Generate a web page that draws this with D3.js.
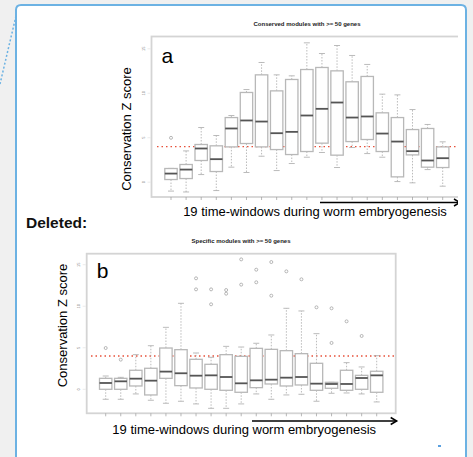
<!DOCTYPE html>
<html>
<head>
<meta charset="utf-8">
<script src="https://cdn.jsdelivr.net/npm/d3@7"></script>
<style>
  body { margin: 0; background: #f0f0f0; }
  svg { display: block; }
  text { font-family: "Liberation Sans", Arial, sans-serif; }
</style>
</head>
<body>
<svg id="chart" width="473" height="457"></svg>
<script>
// 19 time windows
var windows = [1, 2, 3, 4, 5, 6, 7, 8, 9, 10, 11, 12, 13, 14, 15, 16, 17, 18, 19];
var yTicks = [0, 5, 10, 15];
var threshold = 4;

// panel a: conserved modules
var consLow  = [-1.0, -1.1, 0.86, -0.94, 1.69, 1.09, 2.92, 1.31, 2.10, 2.81, 3.34, 1.65, 3.90, 3.22, 2.81, 0.07, -0.07, 1.42, -0.45];
var consQ1   = [0.30, 0.41, 2.44, 1.20, 3.97, 4.35, 3.97, 3.67, 3.11, 3.45, 4.39, 3.04, 4.57, 4.80, 3.45, 0.60, 3.07, 1.69, 1.65];
var consMed  = [0.97, 1.42, 3.79, 2.59, 6.04, 6.94, 6.82, 5.51, 5.66, 7.50, 8.25, 8.96, 7.27, 7.39, 5.47, 4.57, 3.49, 2.44, 2.70];
var consQ3   = [1.54, 1.99, 4.24, 4.09, 7.27, 10.09, 12.07, 10.27, 11.55, 12.67, 12.90, 12.52, 11.29, 11.89, 7.80, 7.27, 5.92, 6.04, 3.97];
var consHigh = [1.55, 3.52, 6.15, 5.25, 7.50, 10.42, 13.46, 12.07, 11.96, 15.67, 14.47, 15.37, 14.25, 13.24, 9.90, 9.82, 8.17, 6.49, 4.54];
var consOutWin = [1];
var consOutVal = [4.99];

// panel b: specific modules
var specLow  = [-1.2, -1.2, -0.56, -1.32, -1.68, -1.44, -1.76, -2.29, -2.29, -1.76, -0.56, -1.2, -0.68, -0.6, -1.44, -0.48, -0.44, -0.56, -1.52];
var specQ1   = [0.0, 0.0, 0.4, -0.68, 1.32, 0.44, 0.16, 0.0, -0.12, -0.36, 0.2, 0.64, 0.4, 0.52, -0.12, 0.12, -0.12, 0.0, -0.36];
var specMed  = [0.76, 0.96, 1.28, 1.04, 2.13, 1.93, 1.64, 1.68, 1.48, 0.72, 1.08, 1.16, 1.40, 1.48, 0.68, 0.64, 0.64, 1.36, 1.68];
var specQ3   = [1.32, 1.32, 2.29, 2.53, 4.97, 4.77, 3.61, 3.01, 4.17, 3.97, 4.93, 4.81, 4.65, 4.29, 3.13, 0.84, 2.29, 1.68, 2.17];
var specHigh = [1.6, 1.44, 4.17, 5.25, 7.46, 10.35, 4.37, 3.85, 5.17, 5.09, 5.54, 6.54, 9.75, 9.43, 6.7, 0.84, 3.21, 2.69, 4.05];
var specOutWin = [1, 2, 7, 7, 8, 8, 9, 9, 10, 10, 11, 11, 12, 12, 13, 14, 15, 16, 16, 17, 18];
var specOutVal = [4.97, 3.57, 13.36, 12.03, 12.03, 10.23, 11.95, 11.51, 15.64, 12.6, 14.4, 12.88, 15.32, 11.27, 14.2, 13.24, 9.87, 9.75, 5.58, 8.18, 6.42];

var xLabel = "19 time-windows during worm embryogenesis";
var yLabel = "Conservation Z score";

var svg = d3.select("#chart");

// document page behind the figure
svg.append("path")
  .attr("d", "M16,460 V10 Q16,5 21,5 H461 Q466,5 466,10 V460")
  .attr("fill", "#fff")
  .attr("stroke", "#6cb2e3")
  .attr("stroke-width", 2);
svg.append("line")
  .attr("x1", 16).attr("y1", 16).attr("x2", 0).attr("y2", 84)
  .attr("stroke", "#6cb2e3").attr("stroke-width", 1.5)
  .attr("stroke-dasharray", "2,2");

svg.append("text")
  .attr("x", 26).attr("y", 228)
  .attr("font-family", "'Open Sans', 'Noto Sans', sans-serif")
  .attr("font-weight", "bold").attr("font-size", 15.5).attr("fill", "#111")
  .text("Deleted:");

svg.append("rect")
  .attr("x", 438).attr("y", 445).attr("width", 3).attr("height", 2)
  .attr("fill", "#5aa0e0");

svg.append("defs").append("clipPath").attr("id", "clipA")
  .append("rect").attr("x", 0).attr("y", 0).attr("width", 458).attr("height", 230);

function drawPanel(g, cfg, low, q1, med, q3, high, outWin, outVal) {
  var x = d3.scaleLinear().domain([1, 19]).range([cfg.x1, cfg.x19]);
  var y = d3.scaleLinear().domain([0, 15]).range([cfg.y0, cfg.y15]);
  var bw = 12.4;

  g.append("text")
    .attr("x", cfg.titleX).attr("y", cfg.titleY)
    .attr("text-anchor", "middle").attr("font-size", 6).attr("font-weight", "bold")
    .attr("fill", "#222")
    .text(cfg.title);

  // frame
  g.append("rect")
    .attr("x", cfg.left).attr("y", cfg.top)
    .attr("width", cfg.right - cfg.left).attr("height", cfg.bottom - cfg.top)
    .attr("fill", "none").attr("stroke", "#d4d4d4").attr("stroke-width", 1.8);

  // y axis labels
  yTicks.forEach(function(t) {
    g.append("line")
      .attr("x1", cfg.left - 4).attr("x2", cfg.left - 1)
      .attr("y1", y(t)).attr("y2", y(t))
      .attr("stroke", "#ddd").attr("stroke-width", 0.6);
    g.append("text")
      .attr("transform", "translate(" + (cfg.left - 7) + "," + y(t) + ") rotate(-90)")
      .attr("text-anchor", "middle").attr("font-size", 4).attr("fill", "#777")
      .text(t);
  });

  // x ticks
  g.selectAll(".xt").data(windows).enter().append("line")
    .attr("x1", function(d) { return x(d); }).attr("x2", function(d) { return x(d); })
    .attr("y1", cfg.bottom).attr("y2", cfg.bottom + 3)
    .attr("stroke", "#999").attr("stroke-width", 0.7);

  // threshold
  g.append("line")
    .attr("x1", cfg.redX).attr("x2", cfg.right)
    .attr("y1", y(threshold)).attr("y2", y(threshold))
    .attr("stroke", "#e8503a").attr("stroke-width", 1.4)
    .attr("stroke-dasharray", "1.5,3");

  var boxes = g.selectAll(".box").data(windows).enter().append("g");

  boxes.append("line")
    .attr("x1", function(d) { return x(d); }).attr("x2", function(d) { return x(d); })
    .attr("y1", function(d, i) { return y(q3[i]); }).attr("y2", function(d, i) { return y(high[i]); })
    .attr("stroke", "#aaa").attr("stroke-width", 0.8).attr("stroke-dasharray", "1.5,1.5");
  boxes.append("line")
    .attr("x1", function(d) { return x(d); }).attr("x2", function(d) { return x(d); })
    .attr("y1", function(d, i) { return y(q1[i]); }).attr("y2", function(d, i) { return y(low[i]); })
    .attr("stroke", "#aaa").attr("stroke-width", 0.8).attr("stroke-dasharray", "1.5,1.5");
  [high, low].forEach(function(arr) {
    boxes.append("line")
      .attr("x1", function(d) { return x(d) - 3; }).attr("x2", function(d) { return x(d) + 3; })
      .attr("y1", function(d, i) { return y(arr[i]); }).attr("y2", function(d, i) { return y(arr[i]); })
      .attr("stroke", "#aaa").attr("stroke-width", 0.8);
  });
  boxes.append("rect")
    .attr("x", function(d) { return x(d) - bw / 2; })
    .attr("y", function(d, i) { return y(q3[i]); })
    .attr("width", bw)
    .attr("height", function(d, i) { return y(q1[i]) - y(q3[i]); })
    .attr("fill", "#fff").attr("stroke", "#b8b8b8").attr("stroke-width", 1.3);
  boxes.append("line")
    .attr("x1", function(d) { return x(d) - bw / 2; }).attr("x2", function(d) { return x(d) + bw / 2; })
    .attr("y1", function(d, i) { return y(med[i]); }).attr("y2", function(d, i) { return y(med[i]); })
    .attr("stroke", "#555").attr("stroke-width", 1.8);

  g.selectAll(".out").data(outVal).enter().append("circle")
    .attr("cx", function(d, i) { return x(outWin[i]); })
    .attr("cy", function(d) { return y(d); })
    .attr("r", 1.5)
    .attr("fill", "none").attr("stroke", "#999").attr("stroke-width", 0.7);

  g.append("text")
    .attr("x", cfg.left + 10).attr("y", cfg.letterY)
    .attr("font-size", 21).attr("fill", "#000")
    .text(cfg.letter);

  g.append("text")
    .attr("transform", "translate(" + cfg.yLabX + "," + cfg.yLabY + ") rotate(-90)")
    .attr("text-anchor", "middle").attr("font-size", 13).attr("fill", "#000")
    .text(yLabel);

  g.append("text")
    .attr("x", cfg.xLabX).attr("y", cfg.xLabY)
    .attr("text-anchor", "middle").attr("font-size", 13).attr("fill", "#000")
    .text(xLabel);

  // arrow under the axis
  g.append("line")
    .attr("x1", cfg.arrowX1).attr("x2", cfg.arrowX2)
    .attr("y1", cfg.arrowY).attr("y2", cfg.arrowY)
    .attr("stroke", "#000").attr("stroke-width", 1.5);
  g.append("path")
    .attr("d", "M" + (cfg.arrowX2 - 6) + "," + (cfg.arrowY - 3.5) + " L" + cfg.arrowX2 + "," + cfg.arrowY +
               " L" + (cfg.arrowX2 - 6) + "," + (cfg.arrowY + 3.5))
    .attr("fill", "none").attr("stroke", "#000").attr("stroke-width", 1.5);
}

var gA = svg.append("g").attr("clip-path", "url(#clipA)");
drawPanel(gA, {
  title: "Conserved modules with >= 50 genes", titleX: 307, titleY: 26,
  left: 151.5, right: 463, top: 36.5, bottom: 197,
  x1: 171, x19: 442.7, y0: 182.2, y15: 48.8,
  redX: 157, letter: "a", letterY: 62.5,
  yLabX: 131, yLabY: 129, xLabX: 315, xLabY: 216,
  arrowX1: 320, arrowX2: 460, arrowY: 202.5
}, consLow, consQ1, consMed, consQ3, consHigh, consOutWin, consOutVal);

var gB = svg.append("g");
drawPanel(gB, {
  title: "Specific modules with >= 50 genes", titleX: 241, titleY: 243,
  left: 86.7, right: 395.7, top: 253.7, bottom: 413.3,
  x1: 105.7, x19: 376.7, y0: 389.3, y15: 264.7,
  redX: 91, letter: "b", letterY: 278.3,
  yLabX: 66.5, yLabY: 325.5, xLabX: 244.2, xLabY: 433.5,
  arrowX1: 252, arrowX2: 396.7, arrowY: 421
}, specLow, specQ1, specMed, specQ3, specHigh, specOutWin, specOutVal);
</script>
</body>
</html>
